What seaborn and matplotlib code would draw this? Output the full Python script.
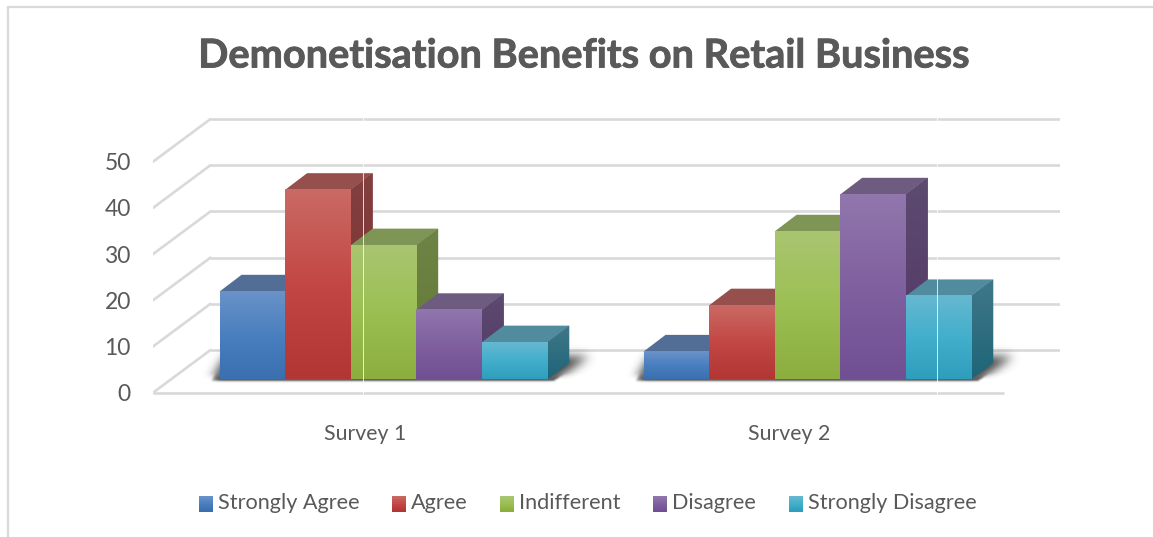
import numpy as np
import pandas as pd
import matplotlib
matplotlib.use("Agg")
import matplotlib.pyplot as plt
import matplotlib.patheffects as pe
import seaborn as sns
from matplotlib.colors import LinearSegmentedColormap
from matplotlib.legend_handler import HandlerBase
from matplotlib.lines import Line2D
from matplotlib.patches import Patch, Polygon, Rectangle

surveys = ["Survey 1", "Survey 2"]
responses = ["Strongly Agree", "Agree", "Indifferent", "Disagree", "Strongly Disagree"]
survey_1 = [19, 41, 29, 15, 8]
survey_2 = [6, 16, 32, 40, 18]
y_ticks = [0, 10, 20, 30, 40, 50]

# Face gradient stops (top, middle, bottom), then the top and side shades
face_colors = {
    "Strongly Agree": ("#6A92C8", "#4A7FBF", "#3A70B0"),
    "Agree": ("#CA6A64", "#C34744", "#B13634"),
    "Indifferent": ("#A9C571", "#9CBF53", "#8CAE3F"),
    "Disagree": ("#9177AD", "#80609F", "#714F94"),
    "Strongly Disagree": ("#66B8D0", "#42AFCC", "#2F9DBC"),
}
top_colors = dict(zip(responses, ["#526E96", "#954F4D", "#7F9556", "#6D5C80", "#508B9E"]))
side_colors = {
    "Strongly Agree": ("#47658C", "#2F5585"),
    "Agree": ("#824040", "#7C2F2E"),
    "Indifferent": ("#6E8446", "#637936"),
    "Disagree": ("#5D4B70", "#523767"),
    "Strongly Disagree": ("#407789", "#1E6578"),
}
TEXT = "#595959"
GRID = "#D9D9D9"

W, H = 1153, 537
PX_CAT = 424.0      # pixels per category step
PX_VAL = 4.62       # pixels per value unit
CAT0_PX = 383.4     # pixel x of the first category
BASE_PX = 379.3     # pixel y of the bar bases
DEPTH_X = 22.0 / PX_CAT
DEPTH_Y = 16.7 / PX_VAL
WALL_BACK = (BASE_PX - 350.0) / PX_VAL
WALL_FRONT = (BASE_PX - 392.7) / PX_VAL
WALL_SHIFT = 57.5 / PX_CAT

frame = pd.DataFrame({
    "Survey": np.repeat(surveys, len(responses)),
    "Response": responses * len(surveys),
    "Score": survey_1 + survey_2,
})

sns.set_theme(style="white")
plt.rcParams["font.family"] = ["Lato", "DejaVu Sans"]

fig = plt.figure(figsize=(W / 100, H / 100), dpi=100)
ax_l, ax_r, ax_t, ax_b = 153, 1060, 110, 400
ax = fig.add_axes([ax_l / W, 1 - ax_b / H, (ax_r - ax_l) / W, (ax_b - ax_t) / H])

sns.barplot(
    data=frame, x="Survey", y="Score", hue="Response", hue_order=responses,
    order=surveys, palette={k: v[1] for k, v in face_colors.items()},
    width=327.7 / PX_CAT, gap=0, saturation=1, legend=False, linewidth=0, ax=ax,
)

x_min = (ax_l - CAT0_PX) / PX_CAT
x_max = (ax_r - CAT0_PX) / PX_CAT
y_min = (BASE_PX - ax_b) / PX_VAL
y_max = (BASE_PX - ax_t) / PX_VAL


def gradient_image(stops, extent, zorder, clip=None):
    cmap = LinearSegmentedColormap.from_list("shade", stops)
    ramp = np.linspace(0, 1, 128).reshape(-1, 1)
    img = ax.imshow(ramp, cmap=cmap, extent=extent, origin="upper", aspect="auto",
                    interpolation="bilinear", zorder=zorder)
    if clip is not None:
        img.set_clip_path(clip)
    return img


def blur(mask, sigma):
    radius = int(3 * sigma)
    kernel = np.exp(-0.5 * (np.arange(-radius, radius + 1) / sigma) ** 2)
    kernel /= kernel.sum()
    out = np.apply_along_axis(lambda m: np.convolve(m, kernel, mode="same"), 0, mask)
    return np.apply_along_axis(lambda m: np.convolve(m, kernel, mode="same"), 1, out)


def floor_shadow(x0, x1, zorder):
    # Soft dark wedge lying on the floor behind and beside a group of bars
    margin_x, margin_y = 70 / PX_CAT, 20 / PX_VAL
    low, high = -2.2 / PX_VAL, 1.35 * DEPTH_Y
    cols = int((x1 - x0 + 2 * margin_x) * PX_CAT)
    rows = int((high - low + 2 * margin_y) * PX_VAL)
    xs = np.linspace(x0 - margin_x, x1 + margin_x, cols)
    ys = np.linspace(high + margin_y, low - margin_y, rows)
    gx, gy = np.meshgrid(xs, ys)
    depth = np.clip((gy - low) / (high - low), 0, 1)
    left = x0 - 9 / PX_CAT + depth * 14 / PX_CAT
    right = x1 + 6 / PX_CAT + depth * 36 / PX_CAT
    mask = ((gx >= left) & (gx <= right) & (gy >= low) & (gy <= high)).astype(float)
    soft = blur(mask, 5.0) * 1.15
    # Sharper along the front edge, where the bars sit on the floor
    sharp = blur(mask, 1.0)
    weight = np.clip((gy + 0.2) / 1.5, 0, 1)
    alpha = np.clip(weight * soft + (1 - weight) * sharp * np.clip(soft * 1.6, 0, 1), 0, 1) * 0.85
    rgba = np.zeros((rows, cols, 4))
    rgba[..., :3] = 0.22
    rgba[..., 3] = alpha
    ax.imshow(rgba, extent=[xs[0], xs[-1], ys[-1], ys[0]], origin="upper", aspect="auto",
              interpolation="bilinear", zorder=zorder)


# Back wall, left wall and floor gridlines
for v in y_ticks:
    ax.plot([x_min + WALL_SHIFT, x_max], [v + WALL_BACK] * 2, color=GRID, lw=1.9, zorder=1,
            solid_capstyle="butt")
    ax.plot([x_min, x_min + WALL_SHIFT], [v + WALL_FRONT, v + WALL_BACK], color=GRID, lw=1.9,
            zorder=1, solid_capstyle="round")
ax.plot([x_min, (1004 - CAT0_PX) / PX_CAT], [WALL_FRONT] * 2, color=GRID, lw=1.9, zorder=1,
        solid_capstyle="butt")

# Extrude every bar: top and side faces first, the gradient front over them
bars = list(ax.patches)
n_resp, n_cat = len(responses), len(surveys)
group_spans = []
for c in range(n_cat):
    group = [bars[r * n_cat + c] for r in range(n_resp)]
    group_spans.append((group[0].get_x(), group[-1].get_x() + group[-1].get_width()))

for (x0, x1) in group_spans:
    floor_shadow(x0, x1, zorder=2)

for r, name in enumerate(responses):
    z = 3 + r
    for c in range(n_cat):
        bar = bars[r * n_cat + c]
        x0, w, h = bar.get_x(), bar.get_width(), bar.get_height()
        bar.set_zorder(z)
        top = Polygon([(x0, h), (x0 + w, h), (x0 + w + DEPTH_X, h + DEPTH_Y), (x0 + DEPTH_X, h + DEPTH_Y)],
                      closed=True, facecolor=top_colors[name], edgecolor="none", zorder=z + 0.1)
        ax.add_patch(top)
        side = Polygon([(x0 + w, 0), (x0 + w + DEPTH_X, DEPTH_Y), (x0 + w + DEPTH_X, h + DEPTH_Y), (x0 + w, h)],
                       closed=True, facecolor=side_colors[name][1], edgecolor="none", zorder=z + 0.1)
        ax.add_patch(side)
        gradient_image(side_colors[name], [x0 + w, x0 + w + DEPTH_X, 0, h + DEPTH_Y], z + 0.2, clip=side)
        gradient_image(face_colors[name], [x0, x0 + w, 0, h], z + 0.3)

ax.set_xlim(x_min, x_max)
ax.set_ylim(y_min, y_max)
ax.set_xticks([i - 18.0 / PX_CAT for i in range(n_cat)])
ax.set_xticklabels(surveys)
ax.set_yticks([v + WALL_FRONT for v in y_ticks])
ax.set_yticklabels([str(v) for v in y_ticks])
ax.set_xlabel("")
ax.set_ylabel("")
ax.tick_params(axis="both", length=0, labelcolor=TEXT)
ax.tick_params(axis="y", pad=16, labelsize=16.5)
ax.tick_params(axis="x", pad=17, labelsize=15.3)
sns.despine(ax=ax, left=True, bottom=True)
ax.patch.set_alpha(0)

fig.text(583.5 / W, 1 - 56 / H, "Demonetisation Benefits on Retail Business", ha="center", va="center",
         fontsize=28.6, fontweight="bold", color=TEXT,
         path_effects=[pe.withStroke(linewidth=0.6, foreground=TEXT)])


class GradientSwatch(HandlerBase):
    def create_artists(self, legend, orig, xd, yd, width, height, fontsize, trans):
        stops = face_colors[orig.get_label()]
        cmap = LinearSegmentedColormap.from_list("swatch", stops)
        strips = 10
        drop = 2.2
        parts = []
        for k in range(strips):
            parts.append(Rectangle((xd, yd - drop + height * (strips - 1 - k) / strips), width,
                                   height / strips * 1.05, facecolor=cmap(k / (strips - 1)),
                                   edgecolor="none", transform=trans))
        return parts


handles = [Patch(label=name) for name in responses]
fig.legend(handles=handles, labels=responses, handler_map={Patch: GradientSwatch()},
           loc="center", bbox_to_anchor=(587.5 / W, 1 - 503 / H), ncol=5, frameon=False,
           fontsize=15.6, labelcolor=TEXT, handlelength=0.65, handleheight=0.75, handletextpad=0.23,
           columnspacing=1.5, borderpad=0)

# Chart frame along the top and left, and the pale seam lines across the plot
frame_kw = dict(color=GRID, lw=1.6, transform=fig.transFigure, solid_capstyle="butt")
fig.add_artist(Line2D([8 / W, 8 / W], [0, 1 - 7 / H], **frame_kw))
fig.add_artist(Line2D([7 / W, 1], [1 - 7 / H, 1 - 7 / H], **frame_kw))
for seam in (363.3, 937.3):
    fig.add_artist(Line2D([seam / W, seam / W], [1 - 395 / H, 1 - 117 / H], color="#FFFFFF", lw=0.7,
                          alpha=0.8, transform=fig.transFigure))

fig.savefig("out.png", dpi=100, facecolor="white")
